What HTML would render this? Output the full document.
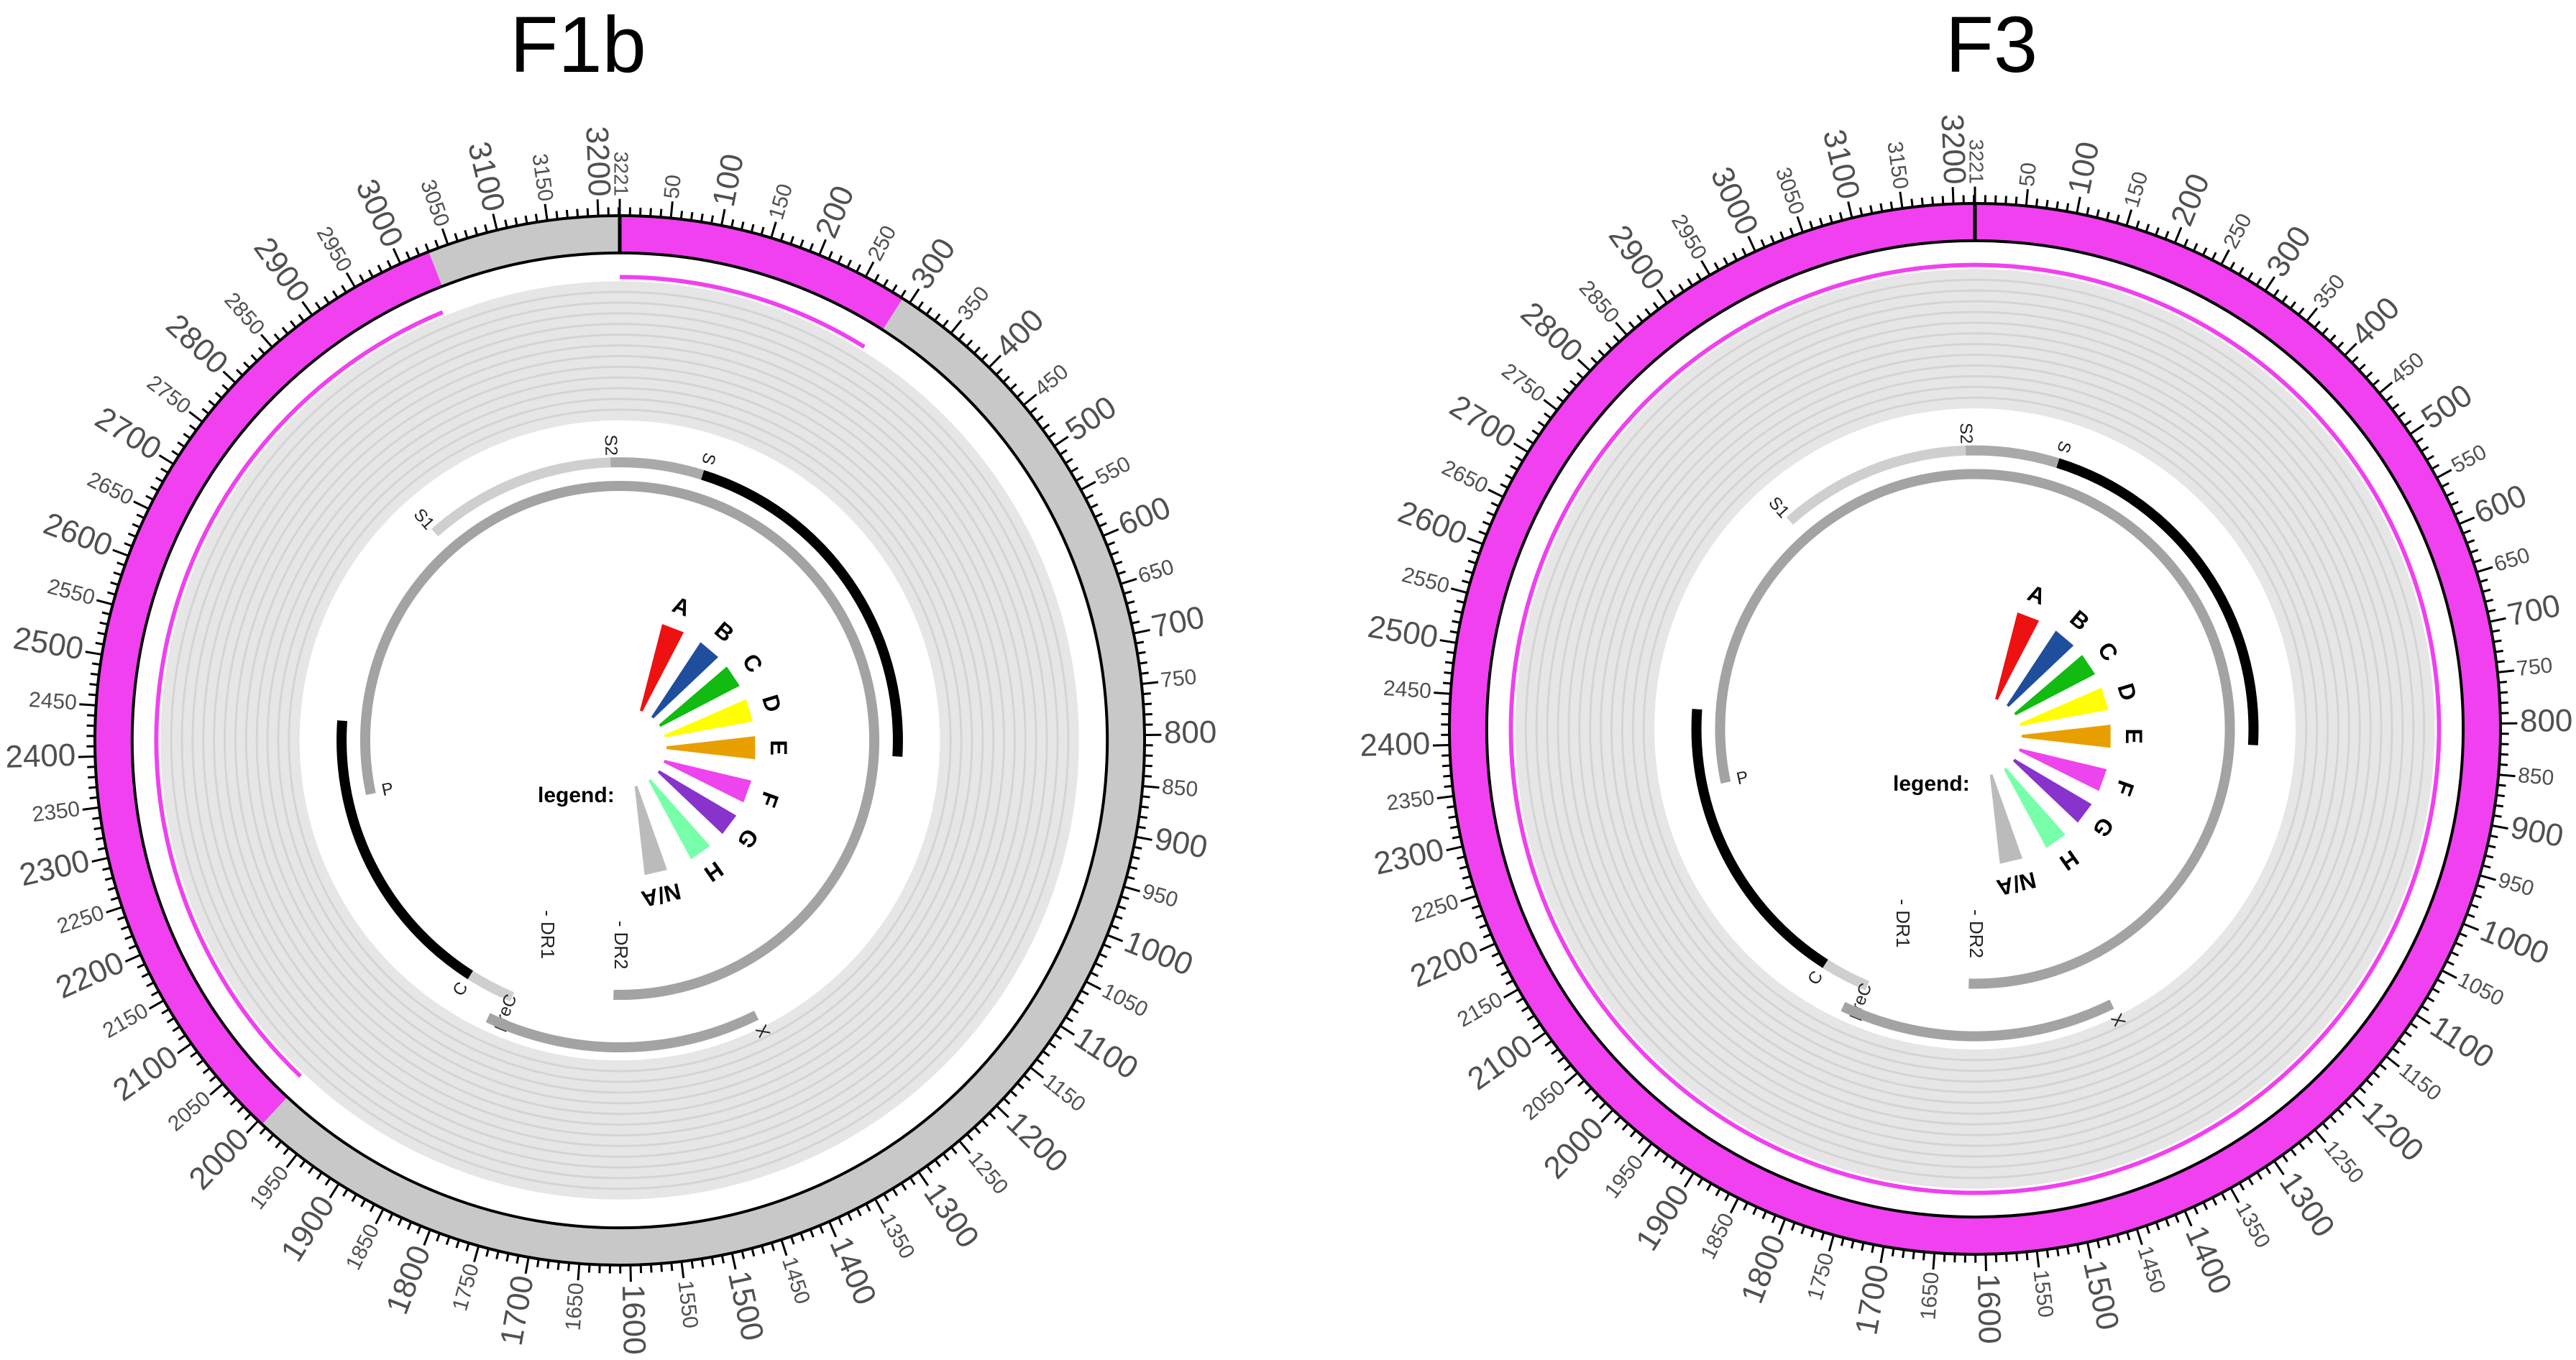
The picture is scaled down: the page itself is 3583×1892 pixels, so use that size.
<!DOCTYPE html>
<html><head><meta charset="utf-8"><style>
html,body{margin:0;padding:0;background:#fff;}
svg{display:block;font-family:"Liberation Sans",sans-serif;}
</style></head>
<body>
<svg id="chart" width="3583" height="1892" viewBox="0 0 3583 1892" xmlns="http://www.w3.org/2000/svg"></svg>
<script>
const GENOME = 3221;
const panelTitles = ["F1b", "F3"];
// outer coverage band segments [start,end,type]
const bandF1b = [[0,292,"m"],[292,1995,"g"],[1995,3030,"m"],[3030,3221,"g"]];
const bandF3 = [[0,3221,"m"]];
const lineF1b = [[0,285],[2000,3020]];
const lineF3 = [[0,3221]];
// gene tracks
const geneNames = ["S1","S2","S","C","preC","P","X"];
const geneStarts = [2848,3204,155,1901,1814,2307,1374];
const geneEnds = [3204,3376,835,2452,1901,4844,1838];
const geneTracks = ["o","o","o","o","o","i","x"];
const geneColors = ["#cfcfcf","#a9a9a9","#000000","#000000","#cfcfcf","#a3a3a3","#a3a3a3"];
// legend
const legendLabels = ["A","B","C","D","E","F","G","H","N/A"];
const legendColors = ["#ee1111","#1f4e9c","#11bb11","#ffff00","#e8a000","#ee44ee","#8833cc","#77ffaa","#bbbbbb"];
const legendAngles = [21,40,56,73,90,110,127,145,167];
const majorTicks = [100,200,300,400,500,600,700,800,900,1000,1100,1200,1300,1400,1500,1600,1700,1800,1900,2000,2100,2200,2300,2400,2500,2600,2700,2800,2900,3000,3100,3200];
const minorTicks = [50,150,250,350,450,550,650,750,850,950,1050,1150,1250,1350,1450,1550,1650,1750,1850,1950,2050,2150,2250,2350,2450,2550,2650,2750,2850,2950,3050,3150];

const panels = [
  {title:panelTitles[0], tx:804, ty:100, cx:862, cy:1030, R:730, sy:1, band:bandF1b, line:lineF1b},
  {title:panelTitles[1], tx:2770, ty:100, cx:2747, cy:1014, R:731, sy:1, band:bandF3, line:lineF3}
];
const NS = "http://www.w3.org/2000/svg";
const svg = document.getElementById("chart");
function mk(tag, attrs, parent){const e=document.createElementNS(NS,tag);for(const k in attrs)e.setAttribute(k,attrs[k]);(parent||svg).appendChild(e);return e;}
function ang(p){return p/GENOME*2*Math.PI;}
function pt(r,p){const a=ang(p);return [r*Math.sin(a), -r*Math.cos(a)];}
function annulus(r1,r2,p1,p2){
  const large=(p2-p1)/GENOME>0.5?1:0;
  if(p2-p1>=GENOME){
    return `M0,${-r2}A${r2},${r2} 0 1 1 0,${r2}A${r2},${r2} 0 1 1 0,${-r2}Z M0,${-r1}A${r1},${r1} 0 1 0 0,${r1}A${r1},${r1} 0 1 0 0,${-r1}Z`;
  }
  const a=pt(r2,p1),b=pt(r2,p2),c=pt(r1,p2),d=pt(r1,p1);
  return `M${a[0]},${a[1]}A${r2},${r2} 0 ${large} 1 ${b[0]},${b[1]}L${c[0]},${c[1]}A${r1},${r1} 0 ${large} 0 ${d[0]},${d[1]}Z`;
}

panels.forEach((P,pi)=>{
  const t=mk("text",{x:P.tx,y:P.ty,"font-size":110,"text-anchor":"middle",fill:"#000"});
  
  
  t.textContent=P.title;
  const g=mk("g",{transform:`translate(${P.cx},${P.cy}) scale(1,${P.sy})`});
  
  
  const R=P.R;
  const tg=mk("g",{},g);
  
  
  mk("path",{d:annulus(0.61*R,0.875*R,0,GENOME),fill:"#e6e6e6","fill-rule":"evenodd"},tg);
  for(let i=1;i<13;i++){
    const r=0.61*R+i*(0.265*R/13);
    mk("circle",{cx:0,cy:0,r:r,fill:"none",stroke:"#d4d4d4","stroke-width":3},tg);
  }
  P.line.forEach(s=>{
    const e=mk("path",{d:annulus(0.879*R,0.887*R,s[0],s[1]),fill:"#f040f0","fill-rule":"evenodd"},g);
    
    
  });
  P.band.forEach(s=>{
    const e=mk("path",{d:annulus(0.929*R,1.0*R,s[0],s[1]),fill:s[2]=="m"?"#f040f0":"#c8c8c8","fill-rule":"evenodd"},g);
    
    
  });
  mk("circle",{cx:0,cy:0,r:0.929*R,fill:"none",stroke:"#000","stroke-width":4},g);
  mk("circle",{cx:0,cy:0,r:1.0*R,fill:"none",stroke:"#000","stroke-width":4},g);
  mk("line",{x1:0,y1:-0.929*R,x2:0,y2:-1.0*R,stroke:"#000","stroke-width":5},g);
  const tk=mk("g",{stroke:"#000","stroke-width":3},g);
  
  
  for(let p=0;p<GENOME;p+=10){
    const len=(p%50==0)?0.032*R:0.016*R;
    const a=pt(R,p),b=pt(R+len,p);
    mk("line",{x1:a[0],y1:a[1],x2:b[0],y2:b[1]},tk);
  }
  function lab(p,txt,fs,cls){
    const deg=p/GENOME*360;
    const q=pt(R*1.037,p);
    let rot=deg-90, anchor="start";
    if(deg>180){rot=deg+90;anchor="end";}
    const e=mk("text",{x:q[0],y:q[1],"font-size":fs,fill:"#505050","text-anchor":anchor,"dominant-baseline":"middle",transform:`rotate(${rot},${q[0]},${q[1]})`},g);
    
    
    e.textContent=txt;
  }
  majorTicks.forEach(v=>lab(v,String(v),44,'tick-label-major'));
  minorTicks.forEach(v=>lab(v,String(v),30,'tick-label-minor'));
  lab(3221,"3221",28,'tick-label-end');
  const trackR={o:0.53*R,i:0.485*R,x:0.585*R};
  geneNames.forEach((n,i)=>{
    const r=trackR[geneTracks[i]];
    const e=mk("path",{d:annulus(r-7,r+7,geneStarts[i],geneEnds[i]),fill:geneColors[i]},g);
    
    
    const lp=pt(r+ (geneTracks[i]=="i"? -24: 24),geneStarts[i]);
    const deg=geneStarts[i]/GENOME*360;
    const tl=mk("text",{x:lp[0],y:lp[1],"font-size":24,fill:"#222","text-anchor":"middle","dominant-baseline":"middle",transform:`rotate(${deg+90},${lp[0]},${lp[1]})`},g);
    
    
    tl.textContent=n;
  });
  [["DR1",-0.14*R,0.37*R],["DR2",0.0,0.39*R]].forEach(d=>{
    const e=mk("text",{x:d[1],y:d[2],"font-size":26,fill:"#222","text-anchor":"middle","dominant-baseline":"middle",transform:`rotate(90,${d[1]},${d[2]})`},g);
    
    
    e.textContent="- "+d[0];
  });
  const lg=mk("g",{transform:`translate(${0.014*R},${0.014*R})`},g);
  
  
  const r1=0.075*R,r2=0.245*R;
  legendLabels.forEach((L,i)=>{
    const a=legendAngles[i]*Math.PI/180, w1=0.035, w2=0.09;
    const P1=[r1*Math.sin(a-w1),-r1*Math.cos(a-w1)],P2=[r2*Math.sin(a-w2),-r2*Math.cos(a-w2)],
          P3=[r2*Math.sin(a+w2),-r2*Math.cos(a+w2)],P4=[r1*Math.sin(a+w1),-r1*Math.cos(a+w1)];
    const e=mk("path",{d:`M${P1}L${P2}L${P3}L${P4}Z`,fill:legendColors[i]},lg);
    
    
    const lr=0.285*R, lp=[lr*Math.sin(a),-lr*Math.cos(a)];
    const tl=mk("text",{x:lp[0],y:lp[1],"font-size":32,"font-weight":"bold",fill:"#000","text-anchor":"middle","dominant-baseline":"middle",transform:`rotate(${legendAngles[i]},${lp[0]},${lp[1]})`},lg);
    
    
    tl.textContent=L;
  });
  const lt=mk("text",{x:-0.01*R,y:0.107*R,"font-size":30,"font-weight":"bold",fill:"#000","text-anchor":"end","dominant-baseline":"middle"},g);
  
  
  lt.textContent="legend:";
});
</script>
</body></html>
